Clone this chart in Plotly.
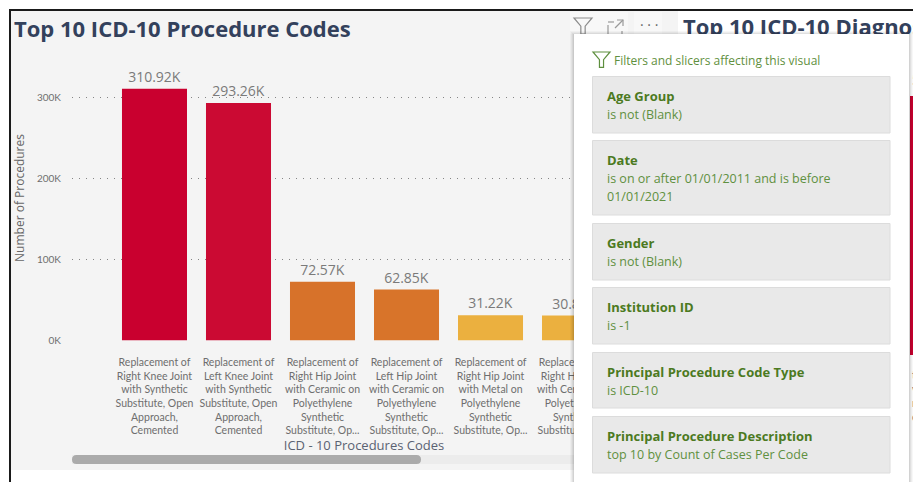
import plotly.graph_objects as go

W, H = 913, 482
FONT = "Open Sans"
LABEL_FONT = "Lato"

procedure_labels = [
    "Replacement of<br>Right Knee Joint<br>with Synthetic<br>Substitute, Open<br>Approach,<br>Cemented",
    "Replacement of<br>Left Knee Joint<br>with Synthetic<br>Substitute, Open<br>Approach,<br>Cemented",
    "Replacement of<br>Right Hip Joint<br>with Ceramic on<br>Polyethylene<br>Synthetic<br>Substitute, Op...",
    "Replacement of<br>Left Hip Joint<br>with Ceramic on<br>Polyethylene<br>Synthetic<br>Substitute, Op...",
    "Replacement of<br>Right Hip Joint<br>with Metal on<br>Polyethylene<br>Synthetic<br>Substitute, Op...",
    "Replacement of<br>Right Hip Joint<br>with Ceramic on<br>Polyethylene<br>Synthetic<br>Substitute, Op...",
]
procedure_counts = [310920, 293260, 72570, 62850, 31220, 30850]
procedure_text = ["310.92K", "293.26K", "72.57K", "62.85K", "31.22K", "30.85K"]
bar_colors = ["#c9002f", "#cb0a33", "#d7722a", "#d8742a", "#ebb03f", "#ebb03f"]
y_ticks = [0, 100000, 200000, 300000]
y_tick_text = ["0K", "100K", "200K", "300K"]

filter_cards = [
    ("Age Group", ["is not (Blank)"], 76, 133),
    ("Date", ["is on or after 01/01/2011 and is before", "01/01/2021"], 140, 215),
    ("Gender", ["is not (Blank)"], 223, 280),
    ("Institution ID", ["is -1"], 287, 344),
    ("Principal Procedure Code Type", ["is ICD-10"], 352, 408),
    ("Principal Procedure Description", ["top 10 by Count of Cases Per Code"], 416, 473),
]


def X(x):
    return x / W


def Y(y):
    return 1 - y / H


def rect(x0, y0, x1, y1, fill, line=None, layer="above", opacity=1):
    return dict(type="rect", xref="paper", yref="paper", x0=X(x0), x1=X(x1), y0=Y(y0), y1=Y(y1),
                fillcolor=fill, opacity=opacity, layer=layer,
                line=dict(color=line or fill, width=1 if line else 0))


def ppath(points, color, width=1.2, fill="rgba(0,0,0,0)", close=True):
    d = "M " + " L ".join(f"{X(a):.5f},{Y(b):.5f}" for a, b in points) + (" Z" if close else "")
    return dict(type="path", xref="paper", yref="paper", path=d, layer="above",
                fillcolor=fill, line=dict(color=color, width=width))


def funnel(x, y, s, color):
    return ppath([(x, y), (x + s, y), (x + s * .62, y + s * .45), (x + s * .62, y + s * .9),
                  (x + s * .38, y + s * .9), (x + s * .38, y + s * .45)], color)


def pill(x0, x1, y0, y1, color, layer="below"):
    r = (y1 - y0) / 2
    d = (f"M {X(x0 + r):.5f},{Y(y0):.5f} L {X(x1 - r):.5f},{Y(y0):.5f} "
         f"Q {X(x1):.5f},{Y(y0):.5f} {X(x1):.5f},{Y(y0 + r):.5f} "
         f"Q {X(x1):.5f},{Y(y1):.5f} {X(x1 - r):.5f},{Y(y1):.5f} "
         f"L {X(x0 + r):.5f},{Y(y1):.5f} "
         f"Q {X(x0):.5f},{Y(y1):.5f} {X(x0):.5f},{Y(y0 + r):.5f} "
         f"Q {X(x0):.5f},{Y(y0):.5f} {X(x0 + r):.5f},{Y(y0):.5f} Z")
    return dict(type="path", xref="paper", yref="paper", path=d, layer=layer,
                fillcolor=color, line=dict(width=0))


def note(x, y, text, size, color, bold=False, anchor="left", family=FONT):
    return dict(xref="paper", yref="paper", x=X(x - 2), y=Y(y), text=f"<b>{text}</b>" if bold else text,
                showarrow=False, xanchor=anchor, yanchor="middle", align="left",
                font=dict(family=family, size=size, color=color))


shapes = [
    rect(11, 11, 678, 470, "#f4f4f4", layer="below"),
    rect(72, 455, 678, 464, "#ececec", layer="below"),
    pill(72, 421, 455, 464, "#ababab"),
    rect(9, 9, 913, 11, "#1a1a1a", layer="below"),
    rect(9, 9, 11, 482, "#1a1a1a", layer="below"),
    rect(570, 12, 602, 34, "#f8f8f8", layer="below"),
    rect(602, 12, 628, 34, "#f8f8f8", layer="below"),
    rect(634, 12, 662, 34, "#f8f8f8", layer="below"),
    funnel(574, 18, 18, "#8c8c8c"),
    ppath([(608, 25), (608, 36), (622, 36), (622, 31)], "#9a9a9a", close=False),
    ppath([(608, 22), (614, 22)], "#9a9a9a", close=False),
    ppath([(617, 20), (623, 20), (623, 26)], "#9a9a9a", close=False),
    ppath([(623, 20), (615, 28)], "#9a9a9a", close=False),
]
# popup shadow, then popup
for i, a in enumerate([0.03, 0.04, 0.05, 0.06]):
    shapes.append(rect(570 + i, 31 + i, 913 - i, 482, f"rgba(0,0,0,{a})"))
shapes.append(rect(574, 34, 909, 482, "#ffffff"))
shapes.append(funnel(593, 52, 17, "#5e8f3e"))

annotations = [
    note(14, 28, "Top 10 ICD-10 Procedure Codes", 22, "#33415c", bold=True),
    note(640, 24, "· · ·", 14, "#666666"),
    note(614, 60.5, "Filters and slicers affecting this visual", 12, "#5f9040"),
    note(912, 80, "5", 14, "#777777"),
]
for frag, fy in [("t", 375), ("v", 389), ("r", 403), ("c", 417)]:
    annotations.append(note(912, fy, frag, 10.5, "#6e6e6e", family=LABEL_FONT))
for name, lines, y0, y1 in filter_cards:
    shapes.append(rect(592.5, y0 + .5, 890, y1, "#e9e9e9", line="#dcdcdc"))
    annotations.append(note(607, y0 + 20, name, 13, "#4c7a1f", bold=True))
    for k, line in enumerate(lines):
        annotations.append(note(607, y0 + 38.5 + k * 18, line, 12.5, "#5f9040"))

fig = go.Figure()
fig.add_bar(
    x=list(range(len(procedure_counts))), y=procedure_counts, width=0.774,
    marker=dict(color=bar_colors, line=dict(width=0)),
    text=procedure_text, textposition="outside", cliponaxis=False,
    textfont=dict(family=FONT, size=14, color="#7a7a7a"), showlegend=False,
)
# neighbouring chart: clipped title and the edge of its first bar
fig.add_bar(x=[0], y=[1], width=1, xaxis="x2", yaxis="y2", marker=dict(color="#c9002f", line=dict(width=0)),
            showlegend=False)
fig.add_scatter(x=[683], y=[29], mode="text", text=["<b>Top 10 ICD-10 Diagnosis Codes</b>"], textposition="middle right",
                textfont=dict(family=FONT, size=22, color="#33415c"), xaxis="x3", yaxis="y3", showlegend=False,
                cliponaxis=False)

fig.update_layout(
    width=W, height=H, margin=dict(l=0, r=0, t=0, b=0, autoexpand=False), autosize=False,
    paper_bgcolor="#ffffff", plot_bgcolor="rgba(0,0,0,0)", barmode="overlay",
    shapes=shapes, annotations=annotations,
    xaxis=dict(domain=[X(72), X(656)], range=[-0.982, 5.97], tickmode="array", automargin=False,
               tickvals=list(range(len(procedure_labels))), ticktext=procedure_labels,
               tickangle=0, showgrid=False, zeroline=False, showline=False, ticks="",
               ticklabelstandoff=14, tickfont=dict(family=LABEL_FONT, size=10.5, color="#6e6e6e"),
               title=dict(text="ICD - 10 Procedures Codes", standoff=1,
                          font=dict(family=FONT, size=13, color="#5a6272"))),
    yaxis=dict(domain=[Y(340.5), Y(55.5)], range=[0, 351900], tickmode="array", automargin=False,
               tickvals=y_ticks, ticktext=y_tick_text, showgrid=True, gridcolor="#858585",
               griddash="1px,6px", gridwidth=1, zeroline=False, showline=False, ticks="",
               ticklabelstandoff=10, tickfont=dict(family=LABEL_FONT, size=10, color="#6e6e6e"),
               title=dict(text="Number of Procedures", standoff=9,
                          font=dict(family=FONT, size=12, color="#666666"))),
    xaxis2=dict(domain=[X(910), 1], range=[-0.5, 0.5], visible=False, anchor="y2"),
    yaxis2=dict(domain=[Y(355), Y(96)], range=[0, 1], visible=False, anchor="x2"),
    xaxis3=dict(domain=[0, 1], range=[0, W], visible=False, anchor="y3"),
    yaxis3=dict(domain=[0, 1], range=[H, 0], visible=False, anchor="x3"),
)
fig.write_html("out.html", config={"displayModeBar": False},
               post_script="document.documentElement.style.margin='0';document.body.style.margin='0';document.body.style.overflow='hidden';")
